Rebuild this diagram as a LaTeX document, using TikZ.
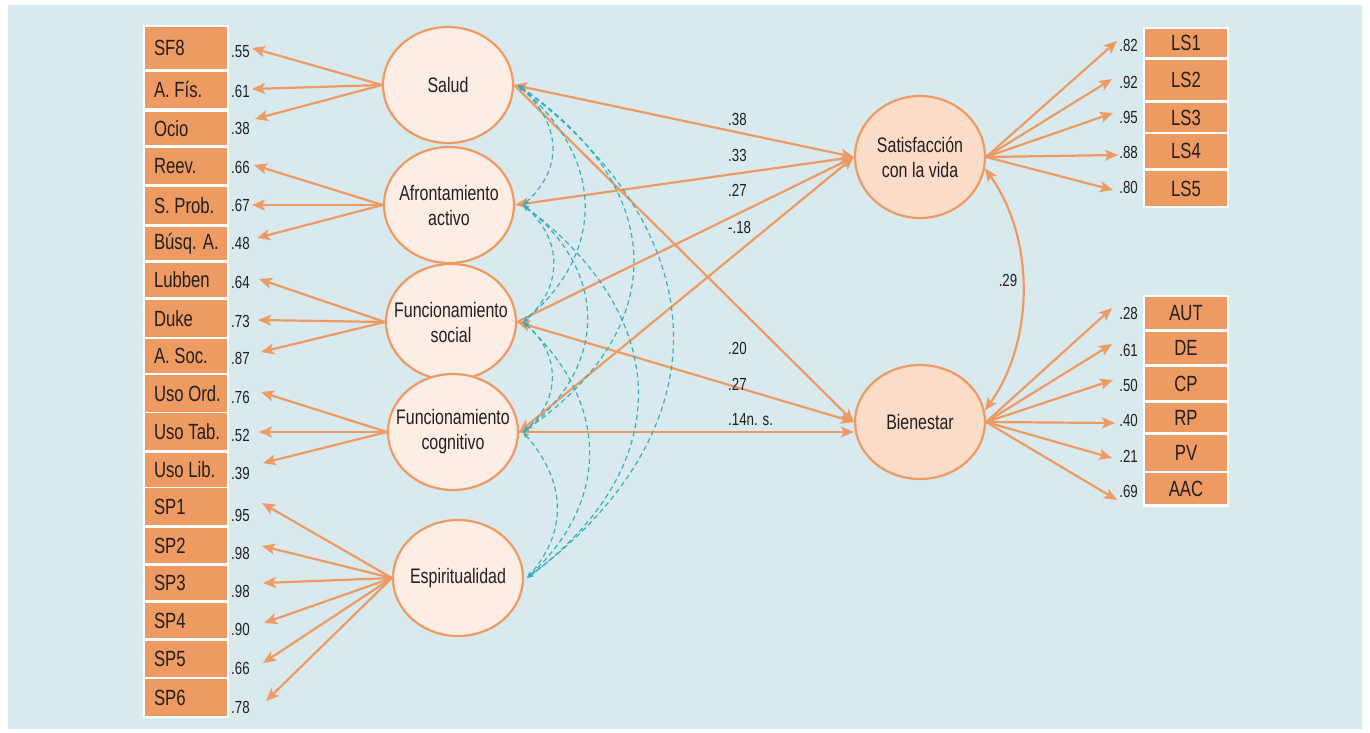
\documentclass[tikz,border=0pt]{standalone}
\usepackage{fontspec}
\setmainfont{Liberation Sans}[FakeStretch=0.76]
\usetikzlibrary{positioning}
\usetikzlibrary{shapes.geometric}
\usetikzlibrary{arrows.meta}

\definecolor{fondo}{HTML}{D9EAEE}
\definecolor{naranja}{HTML}{EE9A63}
\definecolor{crema}{HTML}{FCEEE4}
\definecolor{melocoton}{HTML}{FADCC8}
\definecolor{turquesa}{HTML}{38AFBA}
\definecolor{texto}{HTML}{231F20}

\tikzset{
  punta/.tip={Stealth[length=13pt,width=11pt,inset=3pt]},
  puntita/.tip={Stealth[length=6pt,width=5pt,inset=1.5pt]},
  factor/.style={ellipse, draw=naranja, line width=2.2pt, fill=crema, minimum width=130pt, minimum height=116pt, inner sep=-12pt, align=center, text=texto, font=\fontsize{21}{25}\selectfont},
  indic/.style={fill=naranja, minimum width=82pt, minimum height=35pt, inner sep=0pt, text=texto, font=\fontsize{22}{24}\selectfont},
  carga/.style={text=texto, inner sep=0pt, font=\fontsize{17.5}{18}\selectfont},
  flecha/.style={draw=naranja, line width=2.2pt, -punta},
  doble/.style={draw=naranja, line width=2.2pt, punta-punta},
  cov/.style={draw=turquesa, line width=1.2pt, dash pattern=on 5pt off 3.5pt, puntita-puntita},
}

\begin{document}
\begin{tikzpicture}[x=1pt, y=-1pt]
  \useasboundingbox (0,0) rectangle (1370,733);
  \fill[fondo] (8,5) rectangle (1362,729);

  % white frames behind the indicators
  \fill[white] (143,25) rectangle (229,718);
  \fill[white] (1143,27) rectangle (1229,208);
  \fill[white] (1143,295) rectangle (1229,507);

  % indicators, left column
  \foreach \t/\y/\h [count=\i] in {SF8/48/42, A. Fís./90/36, Ocio/128.5/33, Reev./166/36, S. Prob./205.5/37, Búsq. A./243.5/33, Lubben/280/34, Duke/318.5/37, A. Soc./356/34, Uso Ord./393.5/37, Uso Tab./431.5/37, Uso Lib./470/34, SP1/506.5/37, SP2/545.5/35, SP3/583/34, SP4/620.5/35, SP5/659/36, SP6/697.5/37}
    {\node[indic, minimum height=\h pt] (x\i) at (186,\y) {\makebox[64pt][l]{\t}};}

  % indicators, right column
  \foreach \t/\y/\h [count=\i] in {LS1/43/28, LS2/80/40, LS3/117.5/29, LS4/151/34, LS5/188.5/35}
    {\node[indic, minimum height=\h pt] (ls\i) at (1186,\y) {\t};}
  \foreach \t/\y/\h [count=\i] in {AUT/313/32, DE/348/32, CP/383.5/33, RP/417.5/29, PV/453/36, AAC/488.5/31}
    {\node[indic, minimum height=\h pt] (bi\i) at (1186,\y) {\t};}

  % latent factors
  \node[factor] (sal) at (448,85) {Salud};
  \node[factor] (afr) at (449,205) {Afrontamiento\\activo};
  \node[factor] (soc) at (451,322) {Funcionamiento\\social};
  \node[factor] (cog) at (453,432) {Funcionamiento\\cognitivo};
  \node[factor] (esp) at (458,578) {Espiritualidad};
  \node[factor, fill=melocoton, minimum height=122pt] (sat) at (920,157) {Satisfacción\\con la vida};
  \node[factor, fill=melocoton, minimum height=114pt] (bie) at (920,422) {Bienestar};

  % loadings, left
  \foreach \v/\y [count=\i] in {.55/52, .61/91, .38/128, .66/167, .67/205, .48/243, .64/282, .73/321, .87/358, .76/397, .52/435, .39/473, .95/515, .98/553, .98/591, .90/629, .66/668, .78/707}
    {\node[carga, anchor=west] (c\i) at (231,\y) {\v};}
  \foreach \f/\tx/\ty [count=\i] in {sal/252/48, sal/252/89, sal/255/119, afr/254/165, afr/252/205, afr/257/238, soc/259/279, soc/258/320, soc/261/352, cog/261/392, cog/259/432, cog/263/463, esp/262/503, esp/262/546, esp/263/583, esp/264/623, esp/263/663, esp/266/701}
    {\coordinate (p\i) at (\tx,\ty);
     \draw[flecha] (\f.west) -- (p\i);}

  % loadings, right
  \foreach \v/\y [count=\i] in {.82/45, .92/82, .95/117, .88/152, .80/187, .28/313, .61/350, .50/385, .40/420, .21/456, .69/491}
    {\node[carga, anchor=east] (d\i) at (1138,\y) {\v};}
  \foreach \f/\tx/\ty [count=\i] in {sat/1117/41, sat/1112/79, sat/1113/113, sat/1118/155, sat/1113/190, bie/1112/308, bie/1112/344, bie/1113/380, bie/1115/423, bie/1112/458, bie/1117/500}
    {\coordinate (q\i) at (\tx,\ty);
     \draw[flecha] (\f.east) -- (q\i);}

  % structural paths
  \draw[doble] (sat.west) -- (sal.east);
  \draw[doble] (sat.west) -- (afr.east);
  \draw[flecha] (soc.east) -- (sat.west);
  \draw[doble] (sat.west) -- (cog.east);
  \draw[flecha] (sal.east) -- (bie.west);
  \draw[doble] (soc.east) -- (bie.west);
  \draw[flecha] (cog.east) -- (bie.west |- cog.east);
  \draw[doble] (sat.-10) .. controls +(50,70) and +(50,-70) .. (bie.10);

  \foreach \v/\y in {.38/119, .33/155, .27/190, -.18/227, .20/348, .27/384, .14n. s./420}
    {\node[carga, anchor=west] at (728,\y) {\v};}
  \node[carga] (r) at (1008,280) {.29};

  % covariances among the factors
  \foreach \f/\s in {sal/4, afr/8, soc/6, cog/4, esp/3}
    {\coordinate (\f c) at ([xshift=\s pt]\f.east);}
  \foreach \a/\b/\k/\h in {sal/afr/42/38, afr/soc/40/35, soc/cog/38/32, cog/esp/42/48, sal/soc/85/72, afr/cog/85/66, soc/esp/85/79, sal/cog/150/104, afr/esp/150/113, sal/esp/200/150}
    {\draw[cov] (\a c) .. controls +(\k,\h) and +(\k,-\h) .. (\b c);}
\end{tikzpicture}
\end{document}
